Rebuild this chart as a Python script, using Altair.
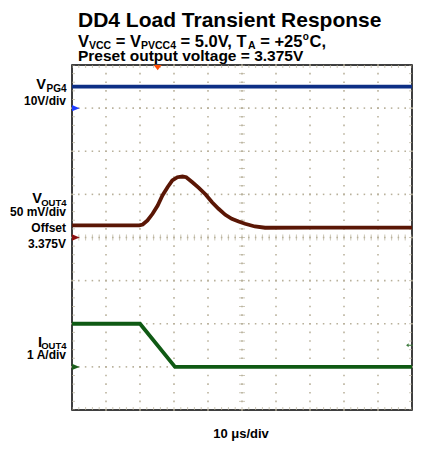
import altair as alt
import pandas as pd

# ---------------- values read from the scope capture ----------------
TITLE = "DD4 Load Transient Response"
SUB_LINE2 = "Preset output voltage = 3.375V"
TIME_LABEL = "10 μs/div"

N_XDIV, N_YDIV = 10, 8          # graticule
US_PER_DIV = 10                 # 10 µs/div

# VPG4 : 10 V/div, ground marker at division 7
vpg_t = [0, 100]
vpg_v = [5.0, 5.0]
VPG_SCALE, VPG_GND = 10.0, 7

# VOUT4 : 50 mV/div, offset 3.375 V at division 4 (values in mV above offset)
vout_t = [0, 10, 19.8, 20.8, 22.2, 23.7, 25.2, 26.6, 28.1, 29.5, 31.0, 32.5, 33.6,
          35.4, 37.3, 39.3, 41.2, 43.1, 45.1, 47.0, 49.0, 50.9, 53.8, 56.8, 70, 85, 100]
vout_mv = [14, 14, 14, 15, 19.7, 27.5, 37.1, 48.7, 58.3, 66.1, 69.9, 70.7, 69.9,
           64.1, 57.6, 49.9, 40.9, 33.3, 26.3, 21.7, 18.6, 15.9, 12.8, 11.3, 11.5, 11.5, 11.5]
VOUT_SCALE, VOUT_GND = 50.0, 4

# IOUT4 : 1 A/div, ground marker at division 1
iout_t = [0, 20.0, 30.3, 100]
iout_a = [1.0, 1.0, 0.0, 0.0]
IOUT_SCALE, IOUT_GND = 1.0, 1

TRIG_T = 25.2          # trigger position (µs)
TRIG_LEVEL_A = 0.5     # trigger level on IOUT4

channels = ["VPG4", "VOUT4", "IOUT4"]
trace_colors = ["#0d2f85", "#5a1605", "#0f5a14"]

# ---------------- build tables ----------------
traces = pd.concat([
    pd.DataFrame({"t": vpg_t, "div": [VPG_GND + v / VPG_SCALE for v in vpg_v], "ch": "VPG4"}),
    pd.DataFrame({"t": vout_t, "div": [VOUT_GND + v / VOUT_SCALE for v in vout_mv], "ch": "VOUT4"}),
    pd.DataFrame({"t": iout_t, "div": [IOUT_GND + a / IOUT_SCALE for a in iout_a], "ch": "IOUT4"}),
], ignore_index=True)

XMAX = N_XDIV * US_PER_DIV
dots = []
for j in range(1, N_YDIV):
    for i in range(0, N_XDIV * 5 + 1):
        dots.append({"t": i * US_PER_DIV / 5, "div": j})
for i in range(1, N_XDIV):
    for j in range(0, N_YDIV * 5 + 1):
        dots.append({"t": i * US_PER_DIV, "div": j / 5})
dots = pd.DataFrame(dots)

vt = pd.DataFrame([{"t": i * US_PER_DIV / 5, "div": d}
                   for i in range(N_XDIV * 5 + 1) for d in (0, N_YDIV / 2, N_YDIV)])
ht = pd.DataFrame([{"t": t, "div": j / 5}
                   for j in range(N_YDIV * 5 + 1) for t in (0, XMAX / 2, XMAX)])

xs = alt.Scale(domain=[0, XMAX], nice=False, zero=False)
ys = alt.Scale(domain=[0, N_YDIV], nice=False, zero=False)
X = alt.X("t:Q", scale=xs, axis=None)
Y = alt.Y("div:Q", scale=ys, axis=None)

GRID = "#b8b09a"
grid = alt.Chart(dots).mark_square(size=2.4, color=GRID, opacity=1).encode(x=X, y=Y)
vticks = alt.Chart(vt).mark_tick(orient="vertical", size=6, thickness=1, color=GRID, clip=True).encode(x=X, y=Y)
hticks = alt.Chart(ht).mark_tick(orient="horizontal", size=6, thickness=1, color=GRID, clip=True).encode(x=X, y=Y)

lines = alt.Chart(traces).mark_line(strokeWidth=3.8, clip=True).encode(
    x=X, y=Y, detail="ch:N",
    color=alt.Color("ch:N", scale=alt.Scale(domain=channels, range=trace_colors), legend=None),
)

def marker(t, d, path, size, color):
    df = pd.DataFrame({"t": [t], "div": [d]})
    return alt.Chart(df).mark_point(shape=path, size=size, filled=True, color=color,
                                    opacity=1, strokeWidth=0).encode(x=X, y=Y)

RIGHT_TRI = "M0,-1L2.4,0L0,1Z"
markers = [
    marker(0, VPG_GND, RIGHT_TRI, 40, "#1e3cff"),
    marker(0, VOUT_GND, RIGHT_TRI, 40, "#8b0f0f"),
    marker(0, IOUT_GND, RIGHT_TRI, 40, "#1d5e1d"),
    marker(TRIG_T, N_YDIV, "M-1,0L1,0L0,1.3Z", 64, "#ff4a00"),
    marker(99, IOUT_GND + TRIG_LEVEL_A / IOUT_SCALE,
           "M-1,0L0,-0.8L0,0.8Z M0,-0.2L2,-0.2L2,0.2L0,0.2Z", 25, "#3c7a3c"),
]

one = pd.DataFrame({"a": [0]})
FONT = "Liberation Sans"

def label(txt, x, y, size, align="right"):
    return alt.Chart(one).mark_text(text=txt, align=align, baseline="alphabetic",
                                    font=FONT, fontWeight="bold", fontSize=size,
                                    color="black").encode(x=alt.value(x), y=alt.value(y))

# subtitle line 1 pieces laid out end to end (Arial-metric widths)
M, S = 16.5, 10.5
B1, BS = -18.3, -16.3
x0 = 6.0
p_v = x0
p_vcc = p_v + 0.667 * M
p_eq1 = p_vcc + 2.111 * S + 0.278 * M
p_pvcc = p_eq1 + 1.529 * M
p_eq2 = p_pvcc + 3.334 * S + 0.278 * M
p_a = p_eq2 + 4.086 * M
p_eq3 = p_a + 0.722 * S + 0.278 * M
p_o = p_eq3 + 2.558 * M + 0.5
p_c = p_o + 0.611 * 10 + 0.5

texts = [
    label(TITLE, 6, -38, 21, "left"),
    label("V", p_v, B1, M, "left"),
    label("VCC", p_vcc, BS, S, "left"),
    label("= V", p_eq1, B1, M, "left"),
    label("PVCC4", p_pvcc, BS, S, "left"),
    label("= 5.0V, T", p_eq2, B1, M, "left"),
    label("A", p_a, BS, S, "left"),
    label("= +25", p_eq3, B1, M, "left"),
    label("o", p_o, -25.5, 10, "left"),
    label("C,", p_c, B1, M, "left"),
    label(SUB_LINE2, 6, -4, 15.5, "left"),
    # channel annotations
    label("V", -26, 24, 14.5),
    label("PG4", -5.5, 27, 10),
    label("10V/div", -6, 40, 12),
    label("V", -30, 137.7, 14.5),
    label("OUT4", -5.5, 140.5, 9.5),
    label("50 mV/div", -6, 151, 12),
    label("Offset", -6, 167, 12),
    label("3.375V", -6, 182.5, 12),
    label("I", -30, 281.7, 14.5),
    label("OUT4", -5.5, 284.3, 9.5),
    label("1 A/div", -6, 294, 12),
    label(TIME_LABEL, 169, 373, 13, "center"),
]

chart = alt.layer(grid, vticks, hticks, lines, *markers, *texts).properties(
    width=340, height=345,
    padding={"left": 64, "top": 57, "right": 1, "bottom": 31},
    autosize=alt.AutoSizeParams(type="none"),
).configure_view(stroke="black", strokeWidth=1.5)

chart.save("out.html", embed_options={"renderer": "svg", "actions": False})
